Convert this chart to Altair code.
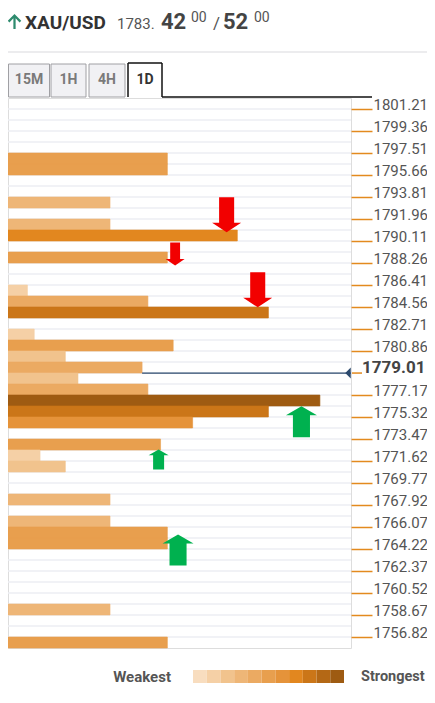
import altair as alt
import pandas as pd

# ---------------- data ----------------
tick_labels = [1801.21, 1799.36, 1797.51, 1795.66, 1793.81, 1791.96, 1790.11, 1788.26,
               1786.41, 1784.56, 1782.71, 1780.86, 1779.01, 1777.17, 1775.32, 1773.47,
               1771.62, 1769.77, 1767.92, 1766.07, 1764.22, 1762.37, 1760.52, 1758.67,
               1756.82]
current_price = 1779.01
n_rows = 50

# confluence rows (row 0 = top), score (bar length) and strength level (1..11)
bar_rows   = [5, 6, 9, 11, 12, 14, 17, 18, 19, 21, 22, 23, 24, 25, 26, 27, 28, 29,
              31, 32, 33, 36, 38, 39, 40, 46, 49]
bar_scores = [164, 164, 105, 105, 236, 164, 20, 144, 268, 27, 170, 59, 138, 72, 144,
              321, 268, 190, 157, 33, 59, 105, 105, 164, 164, 105, 164]
bar_levels = [6, 6, 4, 4, 8, 6, 2, 5, 9, 2, 6, 3, 5, 3, 5, 11, 9, 7, 6, 2, 3, 4, 4,
              6, 6, 4, 6]
score_max = 353

red_x = [225, 172, 257]
red_y = [1792.31, 1789.03, 1786.01]
red_h = [35, 23, 35]
green_x = [302, 155, 175]
green_y = [1774.91, 1771.75, 1764.14]
green_h = [31, 20, 31]

strength_levels = list(range(1, 12))
palette = ["#F8DDBF", "#F5D0A6", "#F1C38D", "#EEB677", "#EBAA62", "#E89F4E",
           "#E5933A", "#E2871F", "#CB7618", "#B46815", "#9E5B12"]

# ---------------- geometry from data ----------------
row_h = (tick_labels[0] - tick_labels[-1]) / (2 * (len(tick_labels) - 1))
y_top = tick_labels[0] + row_h
y_bot = y_top - n_rows * row_h

W, H = 343, 550
TICK = 21
FONT = "Roboto"

xs = alt.Scale(domain=[0, score_max], nice=False, zero=False)
ys = alt.Scale(domain=[y_bot, y_top], nice=False, zero=False)
cs = alt.Scale(domain=strength_levels, range=palette)

axis_values = [v for v in tick_labels if abs(v - current_price) > 1e-6]
yaxis = alt.Axis(orient="right", values=axis_values, format=".2f", domain=False,
                 grid=False, ticks=True, tickColor="#E38A1E", tickWidth=1.5,
                 tickSize=TICK, labelFont=FONT, labelFontSize=15, labelColor="#555555",
                 labelPadding=1, labelBaseline="alphabetic", labelOffset=0.5,
                 labelOverlap=False, title=None)

sep_df = pd.DataFrame({"p": [y_top - k * row_h for k in range(1, n_rows)]})
bar_df = pd.DataFrame({
    "x0": [0] * len(bar_rows),
    "score": bar_scores,
    "top": [y_top - r * row_h for r in bar_rows],
    "bot": [y_top - (r + 1) * row_h for r in bar_rows],
    "level": bar_levels,
})
cur_row = round((y_top - current_price) / row_h) - 1
cur_df = pd.DataFrame({"x": [bar_scores[bar_rows.index(cur_row)]], "x2": [score_max],
                       "p": [current_price], "label": [f"{current_price:.2f}"]})
red_df = pd.DataFrame({"x": red_x, "p": red_y, "s": [h * h for h in red_h]})
green_df = pd.DataFrame({"x": green_x, "p": green_y, "s": [h * h for h in green_h]})
leg_df = pd.DataFrame({"level": strength_levels,
                       "lo": [l - 0.5 for l in strength_levels],
                       "hi": [l + 0.5 for l in strength_levels]})
one = pd.DataFrame({"t": ["_"]})

DOWN = "M-0.43,-1 L0.43,-1 L0.43,0.45 L0.83,0.45 L0,1 L-0.83,0.45 L-0.43,0.45 Z"
UP = "M0,-1 L1,-0.42 L0.55,-0.42 L0.55,1 L-0.55,1 L-0.55,-0.42 L-1,-0.42 Z"
TRI = "M0.5,-1 L-0.5,0 L0.5,1 Z"
HDR_ARROW = ("M0,-1 L0.9,-0.1 L0.68,0.12 L0.15,-0.42 L0.15,1 L-0.15,1 L-0.15,-0.42 "
             "L-0.68,0.12 L-0.9,-0.1 Z")

# ---------------- plot layers ----------------
sep = alt.Chart(sep_df).mark_rule(color="#EDEEF3", strokeWidth=1.5).encode(
    y=alt.Y("p:Q", scale=ys, axis=yaxis), x=alt.value(0), x2=alt.value(W))

bars = alt.Chart(bar_df).mark_rect(strokeWidth=0.6).encode(
    x=alt.X("x0:Q", scale=xs, axis=None), x2="score:Q",
    y=alt.Y("top:Q", scale=ys, axis=yaxis), y2="bot:Q",
    color=alt.Color("level:O", scale=cs, legend=None),
    stroke=alt.Stroke("level:O", scale=cs, legend=None))

price_line = alt.Chart(cur_df).mark_rule(color="#2C4A6E", strokeWidth=1.2).encode(
    x=alt.X("x:Q", scale=xs, axis=None), x2="x2:Q",
    y=alt.Y("p:Q", scale=ys, axis=yaxis))

price_tri = alt.Chart(cur_df).mark_point(shape=TRI, filled=True, size=121, opacity=1,
                                         color="#2C4A6E", xOffset=-3).encode(
    x=alt.X("x2:Q", scale=xs, axis=None), y=alt.Y("p:Q", scale=ys, axis=yaxis))

price_tick = alt.Chart(cur_df).mark_rule(color="#E38A1E", strokeWidth=1.5).encode(
    x=alt.value(W + 1), x2=alt.value(W + 11), y=alt.Y("p:Q", scale=ys, axis=yaxis))

price_label = alt.Chart(cur_df).mark_text(align="left", baseline="alphabetic", font=FONT,
                                          fontSize=17, fontWeight="bold",
                                          color="#444444").encode(
    x=alt.value(W + 11), y=alt.Y("p:Q", scale=ys, axis=yaxis), text="label:N")

red = alt.Chart(red_df).mark_point(shape=DOWN, filled=True, opacity=1, color="#F20000",
                                   strokeWidth=0).encode(
    x=alt.X("x:Q", scale=xs, axis=None), y=alt.Y("p:Q", scale=ys, axis=yaxis),
    size=alt.Size("s:Q", scale=None))

green = alt.Chart(green_df).mark_point(shape=UP, filled=True, opacity=1, color="#00B14F",
                                       strokeWidth=0).encode(
    x=alt.X("x:Q", scale=xs, axis=None), y=alt.Y("p:Q", scale=ys, axis=yaxis),
    size=alt.Size("s:Q", scale=None))


# ---------------- header / chrome ----------------
def label(text, x, y, size, weight="normal", color="#555555", align="left",
          baseline="alphabetic"):
    return alt.Chart(pd.DataFrame({"t": [text]})).mark_text(
        align=align, baseline=baseline, font=FONT, fontSize=size, fontWeight=weight,
        color=color).encode(text="t:N", x=alt.value(x), y=alt.value(y))


def rect(x1, x2, y1, y2, fill, stroke=None, sw=1):
    kw = dict(fill=fill)
    if stroke:
        kw.update(stroke=stroke, strokeWidth=sw)
    return alt.Chart(one).mark_rect(**kw).encode(
        x=alt.value(x1), x2=alt.value(x2), y=alt.value(y1), y2=alt.value(y2))


def hline(x1, x2, y, color, sw=1):
    return alt.Chart(one).mark_rule(color=color, strokeWidth=sw).encode(
        x=alt.value(x1), x2=alt.value(x2), y=alt.value(y))


def vline(x, y1, y2, color, sw=1):
    return alt.Chart(one).mark_rule(color=color, strokeWidth=sw).encode(
        x=alt.value(x), y=alt.value(y1), y2=alt.value(y2))


hdr_arrow = alt.Chart(one).mark_point(shape=HDR_ARROW, filled=True, size=225, opacity=1,
                                      color="#2E8B6E").encode(
    x=alt.value(6.5), y=alt.value(-76.5))

header = [
    hdr_arrow,
    label("XAU/USD", 17, -69, 19, "bold", "#333333"),
    label("1783.", 109, -69.5, 15, "normal", "#555555"),
    label("42", 153, -69, 22, "bold", "#444444"),
    label("00", 183, -76.5, 14, "normal", "#555555"),
    label("/", 205, -69, 17, "normal", "#555555"),
    label("52", 215, -69, 22, "bold", "#444444"),
    label("00", 246, -76.5, 14, "normal", "#555555"),
    hline(0, 419, -46, "#E6E6E9", 1.5),
]

tabs = []
for name, x1, x2 in [("15M", 0.5, 41.5), ("1H", 43, 78), ("4H", 81, 117)]:
    tabs.append(rect(x1, x2, -34, -1, "#F1F1F4", "#A0A0A4", 1))
    tabs.append(label(name, (x1 + x2) / 2, -14.5, 14, "bold", "#7A7A7A", "center"))
tabs += [
    rect(120, 154, -35, -1, "#FFFFFF"),
    vline(120, -35, -1, "#111111", 1.5),
    vline(154, -35, -1, "#111111", 1.5),
    hline(120, 154, -35, "#111111", 1.5),
    hline(154, W + TICK, -1, "#111111", 1.5),
    label("1D", 137, -14.5, 14, "bold", "#333333", "center"),
]

legend_sw = alt.Chart(leg_df).mark_rect().encode(
    x=alt.X("lo:Q", scale=alt.Scale(domain=[0.5, 11.5], range=[185, 336], nice=False,
                                    zero=False), axis=None),
    x2="hi:Q", y=alt.value(572), y2=alt.value(585),
    color=alt.Color("level:O", scale=cs, legend=None))

legend = [
    legend_sw,
    label("Weakest", 163, 578.5, 15, "bold", "#555555", "right", "middle"),
    label("Strongest", 353, 578.5, 14.5, "bold", "#555555", "left", "middle"),
]

chart = alt.layer(
    sep, bars, price_line, price_tri, price_tick, price_label, red, green,
    *header, *tabs, *legend
).resolve_scale(x="independent").properties(
    width=W, height=H,
    autosize=alt.AutoSizeParams(type="none"),
    padding={"left": 0, "top": 90, "right": 76, "bottom": 38},
).configure_view(stroke="#ECEDF2", strokeWidth=1).configure(background="white")

chart.save("out.html", embed_options={"renderer": "svg", "actions": False})
